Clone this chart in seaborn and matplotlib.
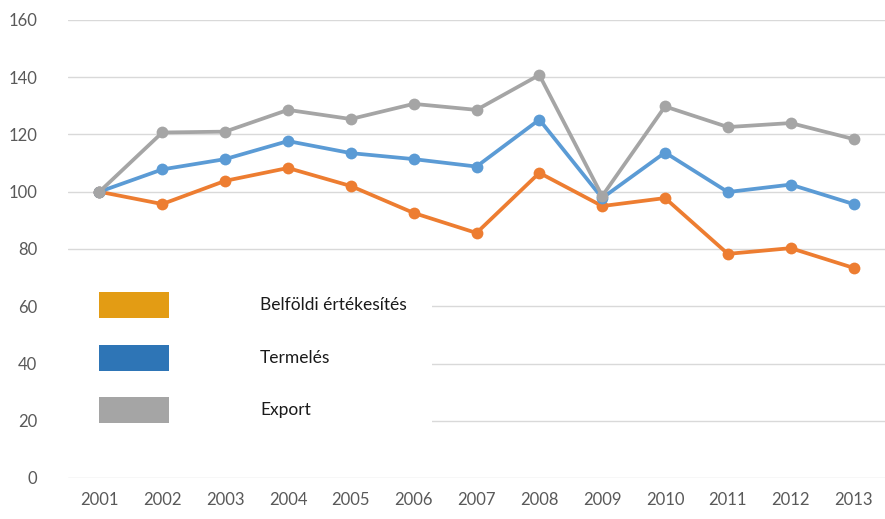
import matplotlib
matplotlib.use("Agg")
import matplotlib.pyplot as plt
from matplotlib.patches import Rectangle
import seaborn as sns
import pandas as pd

years = [2001, 2002, 2003, 2004, 2005, 2006, 2007, 2008, 2009, 2010, 2011, 2012, 2013]
belfoldi = [100, 95.7, 103.8, 108.3, 102.0, 92.6, 85.6, 106.6, 95.0, 97.8, 78.3, 80.3, 73.4]
termeles = [100, 107.8, 111.4, 117.7, 113.5, 111.4, 108.8, 125.2, 97.8, 113.7, 99.9, 102.5, 95.7]
export = [100, 120.7, 121.0, 128.6, 125.4, 130.7, 128.6, 140.8, 98.5, 129.8, 122.6, 124.0, 118.4]
series_names = ["Belföldi értékesítés", "Termelés", "Export"]
line_colors = ["#ED7D31", "#5B9BD5", "#A5A5A5"]
legend_colors = ["#E39C14", "#2E75B6", "#A5A5A5"]
yticks = [0, 20, 40, 60, 80, 100, 120, 140, 160]

df = pd.concat([
    pd.DataFrame({"year": years, "value": vals, "series": name})
    for name, vals in zip(series_names, [belfoldi, termeles, export])
])

sns.set_style("white")
plt.rcParams["font.family"] = ["Lato", "DejaVu Sans"]

W, H = 885, 519
fig = plt.figure(figsize=(W / 100, H / 100), dpi=100)
ax = fig.add_axes([68 / W, 1 - 478 / H, 1 - 68 / W, (478 - 20) / H])

sns.lineplot(data=df, x="year", y="value", hue="series", hue_order=series_names,
             palette=line_colors, marker="o", markersize=8.5, markeredgewidth=0,
             linewidth=2.7, ax=ax, legend=False, zorder=3)

ax.set_xlim(years[0] - 0.5, years[-1] + 0.5)
ax.set_ylim(0, 160)
ax.set_yticks(yticks)
ax.set_xticks(years)
ax.set_xticklabels([str(y) for y in years])
ax.grid(axis="y", color="#D9D9D9", linewidth=1.0)
ax.grid(axis="x", visible=False)
for s in ax.spines.values():
    s.set_visible(False)
ax.tick_params(axis="both", length=0, labelsize=12, labelcolor="#595959")
ax.tick_params(axis="y", pad=22)
ax.tick_params(axis="x", pad=10)
ax.set_xlabel("")
ax.set_ylabel("")

# legend block (white background, colour boxes, labels)
def fx(px):
    return px / W

def fy(py):
    return 1 - py / H

fig.patches.append(Rectangle((fx(66), fy(426)), fx(432) - fx(66), fy(285) - fy(426),
                             transform=fig.transFigure, facecolor="white",
                             edgecolor="none", zorder=5))
row_tops = [292, 345, 397]
for top, col, name in zip(row_tops, legend_colors, series_names):
    fig.patches.append(Rectangle((fx(99), fy(top + 26)), fx(169) - fx(99), 26 / H,
                                 transform=fig.transFigure, facecolor=col,
                                 edgecolor="none", zorder=6))
    fig.text(fx(260), fy(top + 13), name, fontsize=12.5, color="#1a1a1a",
             ha="left", va="center", zorder=7)

fig.savefig("out.png", dpi=100)
